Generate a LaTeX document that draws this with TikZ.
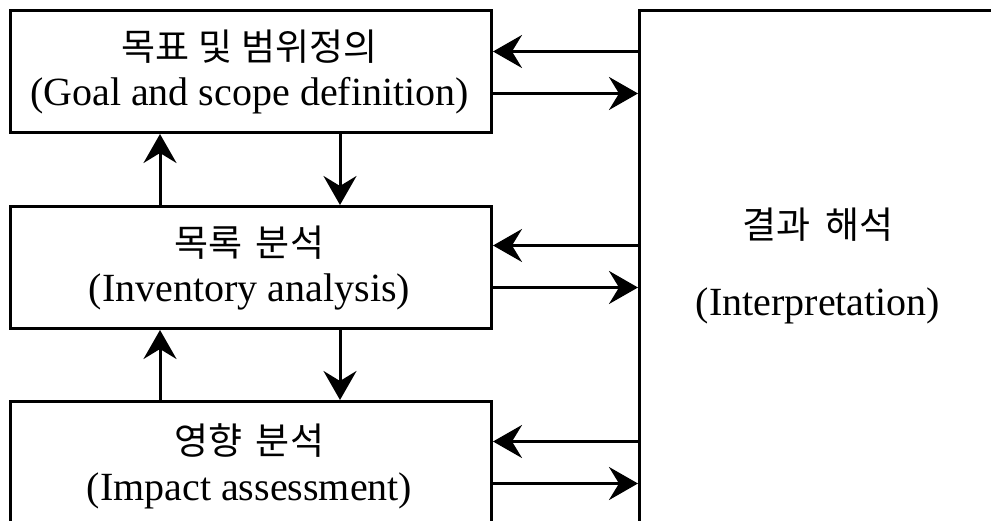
\documentclass[tikz,border=0pt]{standalone}
\usepackage{fontspec}
\setmainfont{Liberation Serif}
\newfontfamily\krfont{Noto Sans CJK KR}
\usetikzlibrary{arrows.meta}
\begin{document}
\begin{tikzpicture}[x=1pt,y=-1pt,
  box/.style={draw,line width=3pt,inner sep=0pt,minimum width=481pt,minimum height=122pt,anchor=north west},
  kor/.style={anchor=base,inner sep=0pt,font=\krfont\fontsize{37}{44}\selectfont},
  eng/.style={anchor=base,inner sep=0pt,font=\fontsize{40}{48}\selectfont},
  arr/.style={line width=3pt,-{Stealth[length=29pt,width=33pt,inset=10pt]}}]
\useasboundingbox (0,0) rectangle (991,521);
\clip (0,0) rectangle (991,521);
% boxes
\node[box] (g) at (9,9) {};
\node[box] (i) at (9,205) {};
\node[box] (m) at (9,400) {};
\node[draw,line width=3pt,inner sep=0pt,minimum width=360pt,minimum height=515pt,anchor=north west] (r) at (638,9) {};
% texts
\node[kor] (g1) at (249.5,61) {목표\hspace{0.25em}및\hspace{0.25em}범위정의};
\node[eng] (g2) at (249.5,106) {(Goal and scope definition)};
\node[kor] (i1) at (249.5,257) {목록\hspace{0.35em}분석};
\node[eng] (i2) at (249.5,302) {(Inventory analysis)};
\node[kor] (m1) at (249.5,454) {영향\hspace{0.35em}분석};
\node[eng] (m2) at (249.5,500) {(Impact assessment)};
\node[kor] (r1) at (818,239) {결과\hspace{0.4em}해석};
\node[eng] (r2) at (818,316) {(Interpretation)};
% vertical arrows
\path ([xshift=-91pt]i.north) coordinate (iu);
\path ([xshift=89pt]g.south) coordinate (gd);
\path ([xshift=-91pt]m.north) coordinate (mu);
\path ([xshift=89pt]i.south) coordinate (id);
\draw[arr] (iu) -- (iu |- g.south);
\draw[arr] (gd) -- (gd |- i.north);
\draw[arr] (mu) -- (mu |- i.south);
\draw[arr] (id) -- (id |- m.north);
% horizontal arrows
\path ([yshift=20pt]g.east) coordinate (gl);
\path ([yshift=-22pt]g.east) coordinate (gr);
\path ([yshift=22pt]i.east) coordinate (il);
\path ([yshift=-20pt]i.east) coordinate (ir);
\path ([yshift=21pt]m.east) coordinate (ml);
\path ([yshift=-21pt]m.east) coordinate (mr);
\draw[arr] (r.west |- gl) -- (gl);
\draw[arr] (gr) -- (r.west |- gr);
\draw[arr] (r.west |- il) -- (il);
\draw[arr] (ir) -- (r.west |- ir);
\draw[arr] (r.west |- ml) -- (ml);
\draw[arr] (mr) -- (r.west |- mr);
\end{tikzpicture}
\end{document}
